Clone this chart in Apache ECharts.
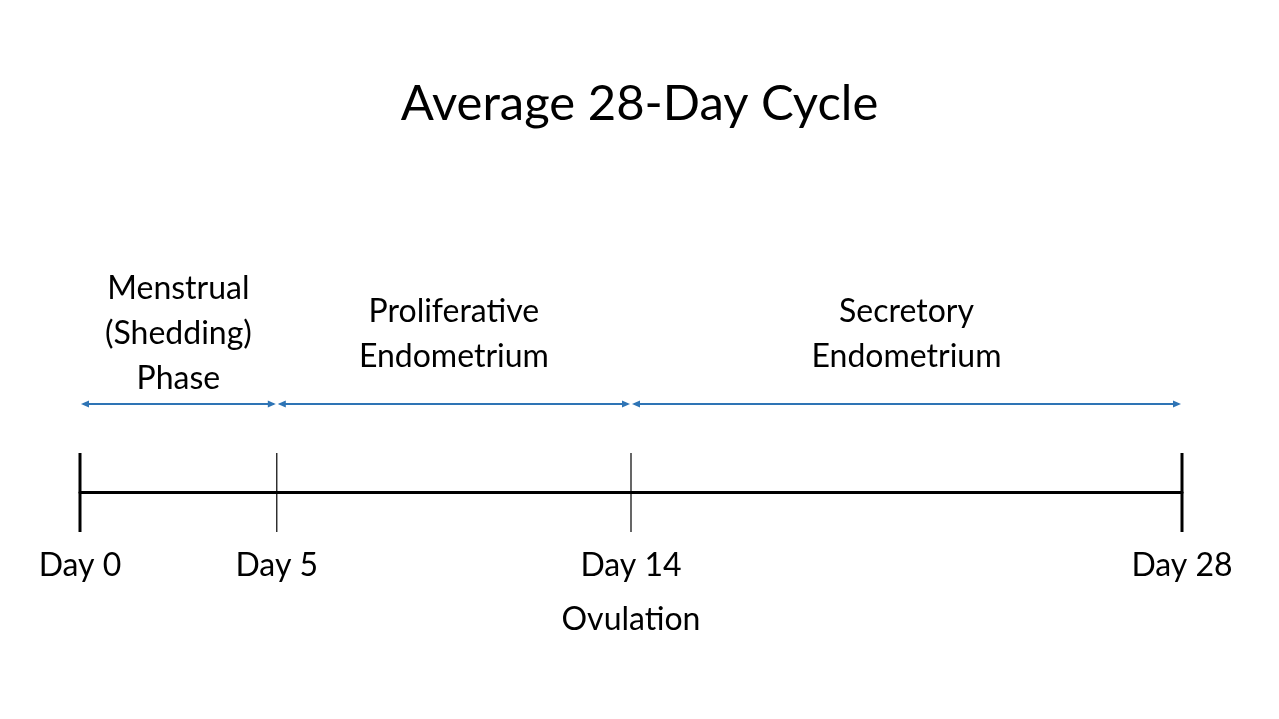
<!DOCTYPE html>
<html>
<head>
<meta charset="utf-8">
<script src="https://cdn.jsdelivr.net/npm/echarts@6/dist/echarts.min.js"></script>
<style>
html,body{margin:0;padding:0;background:#fff;}
#chart{width:1279px;height:719px;}
</style>
</head>
<body>
<div id="chart"></div>
<script>
// ---- data ----
const titleText = 'Average 28-Day Cycle';
const days = [0, 5, 14, 28];
const dayLabels = ['Day 0', 'Day 5', 'Day 14', 'Day 28'];
const dayNotes = ['', '', 'Ovulation', ''];
const phaseStart = [0, 5, 14];
const phaseEnd = [5, 14, 28];
const phaseNames = ['Menstrual\n(Shedding)\nPhase', 'Proliferative\nEndometrium', 'Secretory\nEndometrium'];

// ---- style ----
const FONT = 'Lato';
const BLUE = '#2E74B5';
const minDay = Math.min.apply(null, days);
const maxDay = Math.max.apply(null, days);

const chart = echarts.init(document.getElementById('chart'), null, {renderer: 'canvas'});

const option = {
  backgroundColor: '#ffffff',
  animation: false,
  title: {
    text: titleText,
    left: 'center',
    top: 75,
    textStyle: {fontFamily: FONT, fontSize: 49, fontWeight: 'normal', color: '#000'}
  },
  grid: {left: 80, right: 97, top: 404, bottom: 227, containLabel: false},
  xAxis: {
    type: 'value', min: minDay, max: maxDay,
    axisLine: {show: true, lineStyle: {color: '#000', width: 3}},
    axisTick: {show: false}, axisLabel: {show: false}, splitLine: {show: false}
  },
  yAxis: {
    type: 'value', min: 0, max: 1, show: false
  },
  series: [
    {
      type: 'custom',
      data: days.map((d, i) => [d, 0, i]),
      renderItem: function (params, api) {
        const i = params.dataIndex;
        const d = api.value(0);
        const p = api.coord([d, 0]);
        const isEnd = (d === minDay || d === maxDay);
        const children = [
          {type: 'line', shape: {x1: p[0], y1: p[1] - 39, x2: p[0], y2: p[1] + 40},
           style: {stroke: '#000', lineWidth: isEnd ? 3 : 1.2}},
          {type: 'text', x: p[0], y: p[1] + 74,
           style: {text: dayLabels[i], fontFamily: FONT, fontSize: 32, fill: '#000', align: 'center', verticalAlign: 'middle'}}
        ];
        if (dayNotes[i]) {
          children.push({type: 'text', x: p[0], y: p[1] + 128,
            style: {text: dayNotes[i], fontFamily: FONT, fontSize: 32, fill: '#000', align: 'center', verticalAlign: 'middle'}});
        }
        return {type: 'group', children: children};
      }
    },
    {
      type: 'custom',
      data: phaseStart.map((s, i) => [s, phaseEnd[i], i]),
      renderItem: function (params, api) {
        const i = params.dataIndex;
        const a = api.coord([api.value(0), 1]);
        const b = api.coord([api.value(1), 1]);
        const y = a[1];
        const x1 = a[0] + 1, x2 = b[0] - 1;
        const hl = 8, hw = 3.5;
        const mid = (a[0] + b[0]) / 2;
        return {type: 'group', children: [
          {type: 'line', shape: {x1: x1 + 2, y1: y, x2: x2 - 2, y2: y}, style: {stroke: BLUE, lineWidth: 2}},
          {type: 'polygon', shape: {points: [[x1, y], [x1 + hl, y - hw], [x1 + hl, y + hw]]}, style: {fill: BLUE}},
          {type: 'polygon', shape: {points: [[x2, y], [x2 - hl, y - hw], [x2 - hl, y + hw]]}, style: {fill: BLUE}},
          {type: 'text', x: mid, y: y - 70,
           style: {text: phaseNames[i], fontFamily: FONT, fontSize: 32, lineHeight: 45, fill: '#000', align: 'center', verticalAlign: 'middle'}}
        ]};
      }
    }
  ]
};
chart.setOption(option);
</script>
</body>
</html>
